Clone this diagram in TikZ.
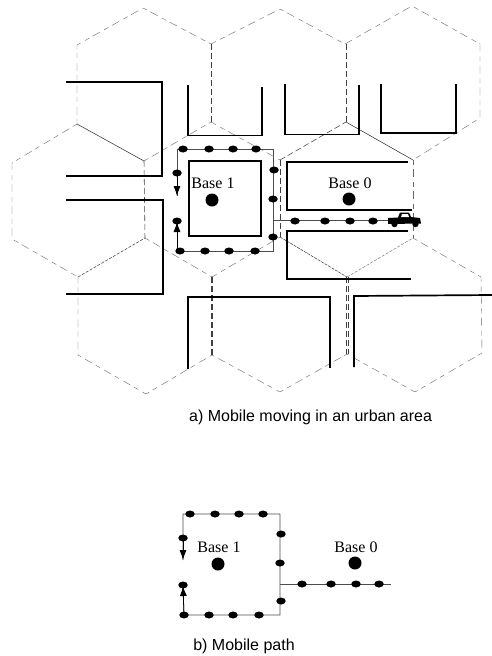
\documentclass[tikz,border=0pt]{standalone}
\usepackage{fontspec}
\setmainfont{Liberation Serif}
\newfontfamily\capfont{Liberation Sans}
\usetikzlibrary{arrows.meta,shapes.geometric}
\tikzset{
  hex/.style={draw=black!60,line width=0.4pt,dash pattern=on 5pt off 4pt on 8pt off 5pt},
  hexsolid/.style={draw=black!80,line width=0.55pt},
  hexdark/.style={draw=black!75,line width=0.55pt,dash pattern=on 6pt off 3pt},
  streetline/.style={draw=black,line width=1.7pt,miter limit=10},
  route/.style={draw=black!70,line width=0.7pt},
  stop/.style={draw=none,fill=black,ellipse,inner sep=0pt,minimum width=9.5pt,minimum height=7pt},
  base/.style={circle,fill=black,inner sep=0pt,minimum size=13pt},
  baselabel/.style={font=\fontsize{16}{16}\selectfont,inner sep=0pt},
  caption/.style={font=\capfont\fontsize{16}{16}\selectfont,inner sep=0pt},
  routearrow/.style={draw=black,line width=0.8pt,-{Latex[length=10pt,width=7pt]}},
}
\begin{document}
\begin{tikzpicture}[x=1pt,y=-1pt]
\useasboundingbox (0,0) rectangle (492,656);
% hexagon cells
\draw[hex] (77,124) -- (77,45) -- (143,8) -- (211,44) -- (280,9) -- (345,44) -- (412,6) -- (480,44) -- (480,118) -- (413,160);
\draw[hexdark] (211,44) -- (211,122);
\draw[hexdark] (346,44) -- (346,122);
\draw[hex] (144,161) -- (211,122) -- (280,160);
\draw[hexsolid] (77,124) -- (144,161);
\draw[hexdark] (280,160) -- (346,122);
\draw[hexsolid] (346,122) -- (413,160);
\draw[hex] (77,124) -- (12,163) -- (12,239) -- (78,277);
\draw[hexdark] (144,161) -- (145,238);
\draw[hexdark] (280,160) -- (280,237);
\draw[hex] (413,160) -- (413,238);
\draw[hexdark,dash pattern=on 3pt off 1.5pt] (78,277) -- (145,238);
\draw[hex] (145,238) -- (212,277) -- (280,237);
\draw[hexdark,dash pattern=on 3pt off 1pt] (280,237) -- (347,277);
\draw[hex,dash pattern=on 3pt off 1.5pt] (347,277) -- (413,238);
\draw[hex] (413,238) -- (481,277) -- (482,353) -- (415,392) -- (347,354) -- (280,392) -- (212,355) -- (146,394) -- (78,355) -- (78,277);
\draw[hexdark,line width=1.3pt] (212,277) -- (212,355);
\draw[hexdark,line width=.6pt] (346,277) -- (346,354);
\draw[hexdark,line width=.6pt] (348,277) -- (348,354);
% street blocks
\draw[streetline] (66,82) -- (162,82) -- (162,176) -- (66,176);
\draw[streetline] (66,200) -- (163,200) -- (163,294) -- (66,294);
\draw[streetline] (188,85) -- (188,135.5) -- (262,135.5) -- (262,87);
\draw[streetline] (285,84) -- (285,134.5) -- (359,134.5) -- (359,85);
\draw[streetline] (381,84) -- (381,133) -- (456,133) -- (456,84);
\draw[streetline] (189,161) rectangle (261,236);
\draw[streetline] (408,162) -- (287,162) -- (287,210) -- (412,210);
\draw[streetline] (408,231) -- (287,231) -- (287,279) -- (411,279);
\draw[streetline] (188,369) -- (188,297) -- (330,297) -- (330,368);
\draw[streetline] (354,367) -- (354,296) -- (492,295);
% path a
\coordinate (atl) at (177,149);
\coordinate (atr) at (273,149);
\coordinate (abr) at (273,251);
\coordinate (abl) at (177,251);
\coordinate (ajn) at (273,220);
\coordinate (aend) at (390,220);
\coordinate (adown) at (177,196);
\coordinate (aup) at (177,222);
\draw[route] (adown) -- (atl) -- (atr) -- (abr) -- (abl) -- (aup);
\draw[route] (ajn) -- (aend);
\draw[routearrow] (177,175) -- (adown);
\draw[routearrow] (abl) -- (aup);
\foreach \n/\x/\y in {a1/183/149,a2/209/149,a3/233/149,a4/256/149,a5/274/170,a6/273/199,a7/273/237,a8/177/173,a9/177/221,a10/180/251,a11/205/251,a12/229/251,a13/255/251,a14/295/221,a15/325/221,a16/350/221,a17/373/221}
  {\node[stop] (\n) at (\x,\y) {};}
\node[base] (b1a) at (212,200) {};
\node[base] (b0a) at (349,199) {};
\node[baselabel] (l1a) at (213,183) {Base 1};
\node[baselabel] (l0a) at (350,183) {Base 0};
% truck
\fill[black] (388,218) -- (398,217.5) -- (400,212.5) -- (409,212.5) -- (411,217) -- (420,218) -- (421,223.5) -- (388,224) -- cycle;
\fill[white] (402,214) -- (408,214) -- (409,217) -- (401,217) -- cycle;
\fill[black] (394.5,224) circle (3.2pt) (415.5,224) circle (3.2pt);
\node[caption,anchor=west] (capa) at (189,417) {a) Mobile moving in an urban area};
% path b
\coordinate (btl) at (183,514);
\coordinate (btr) at (280,514);
\coordinate (bbr) at (280,615);
\coordinate (bbl) at (184,615);
\coordinate (bjn) at (280,584);
\coordinate (bend) at (391,584);
\coordinate (bdown) at (183,560);
\coordinate (bup) at (183,586);
\draw[route] (bdown) -- (btl) -- (btr) -- (bbr) -- (bbl) -- (bup);
\draw[route] (bjn) -- (bend);
\draw[routearrow] (183,540) -- (bdown);
\draw[routearrow] (bbl) -- (bup);
\foreach \n/\x/\y in {b1/190/514,b2/215/514,b3/239/514,b4/263/514,b5/281/534,b6/280/563,b7/281/601,b8/183/538,b9/183/585,b10/184/615,b11/209/615,b12/233/615,b13/259/615,b14/302/584,b15/331/584,b16/356/584,b17/379/584}
  {\node[stop] (\n) at (\x,\y) {};}
\node[base] (b1b) at (218,564) {};
\node[base] (b0b) at (355,563) {};
\node[baselabel] (l1b) at (219,547) {Base 1};
\node[baselabel] (l0b) at (356,547) {Base 0};
\node[caption,anchor=center] (capb) at (244,646) {b) Mobile path};
\end{tikzpicture}
\end{document}
